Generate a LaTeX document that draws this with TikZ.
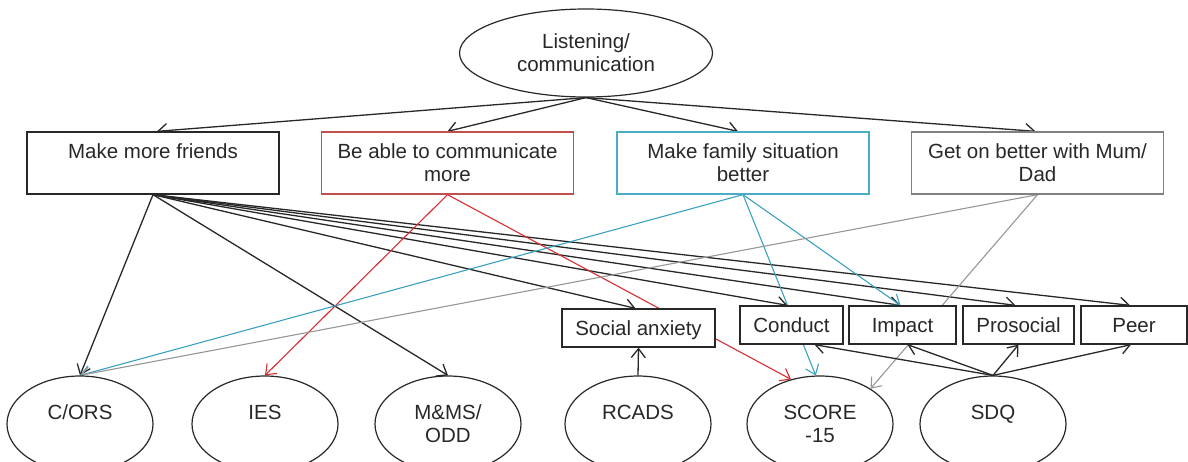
\documentclass[tikz,border=0pt]{standalone}
\usepackage{fontspec}
\setmainfont{Liberation Sans}
\usetikzlibrary{arrows.meta,backgrounds,shapes.geometric}
\definecolor{redbox}{RGB}{192,80,77}
\definecolor{redline}{RGB}{215,45,50}
\definecolor{cyanbox}{RGB}{75,172,198}
\definecolor{cyanline}{RGB}{60,160,192}
\definecolor{graybox}{RGB}{128,128,128}
\definecolor{grayline}{RGB}{150,150,150}
\definecolor{ink}{RGB}{40,40,40}
\begin{document}
\begin{tikzpicture}[x=1pt,y=-1pt,
  every node/.style={font=\fontsize{20.5}{23}\selectfont, text=ink},
  topbox/.style={draw=ink, fill=white, line width=1.3pt, minimum width=252pt, minimum height=62pt, inner sep=0pt, align=center},
  subbox/.style={draw=ink, fill=white, line width=1.3pt, minimum height=38pt, inner sep=0pt, text height=15pt, text depth=0pt},
  oval/.style={ellipse, draw=ink, fill=white, line width=1.2pt, inner sep=0pt, align=center},
  link/.style={draw=ink, line width=1.3pt, -{Straight Barb[length=9pt,width=14pt]}},
  clink/.style={line width=1.1pt, -{Straight Barb[length=9pt,width=14pt]}}
]
\useasboundingbox (0,0) rectangle (1188,461);
\clip (0,0) rectangle (1188,461);

\node[oval, minimum width=253pt, minimum height=88pt] (top) at (586,53) {Listening/\\communication};

\node[topbox] (mmf) at (153,163) {Make more friends\\\mbox{}};
\node[topbox, draw=redbox] (comm) at (447.5,163) {Be able to communicate\\more};
\node[topbox, draw=cyanbox] (fam) at (743,163) {Make family situation\\better};
\node[topbox, draw=graybox] (mum) at (1037.5,163) {Get on better with Mum/\\Dad};

\node[subbox, minimum width=153pt] (soc) at (638.5,328) {Social anxiety};
\node[subbox, minimum width=103pt] (cond) at (791.5,325) {Conduct};
\node[subbox, minimum width=107pt] (imp) at (902.5,325) {Impact};
\node[subbox, minimum width=111pt] (pro) at (1018.5,325) {Prosocial};
\node[subbox, minimum width=106pt] (peer) at (1134,325) {Peer};

\node[oval, minimum width=146pt, minimum height=96pt] (cors) at (80,424) {C/ORS\\\mbox{}};
\node[oval, minimum width=146pt, minimum height=96pt] (ies) at (265,424) {IES\\\mbox{}};
\node[oval, minimum width=146pt, minimum height=96pt] (mms) at (448,424) {M\&MS/\\ODD};
\node[oval, minimum width=146pt, minimum height=96pt] (rcads) at (638,424) {RCADS\\\mbox{}};
\node[oval, minimum width=146pt, minimum height=96pt] (score) at (820,424) {SCORE\\-15};
\node[oval, minimum width=146pt, minimum height=96pt] (sdq) at (993,424) {SDQ\\\mbox{}};

\begin{pgfonlayer}{background}
\draw[link] (top.south) -- ([xshift=4pt]mmf.north);
\draw[link] (top.south) -- (comm.north);
\draw[link] (top.south) -- ([xshift=-5pt]fam.north);
\draw[link] (top.south) -- ([xshift=-2pt]mum.north);

\draw[link] (mmf.south) -- (cors.north);
\draw[link] (mmf.south) -- (mms.north);
\draw[link] (mmf.south) -- ([xshift=-3pt]soc.north);
\draw[link] (mmf.south) -- ([xshift=-4pt]cond.north);
\draw[link] (mmf.south) -- ([xshift=-2pt]imp.north);
\draw[link] (mmf.south) -- ([xshift=-3pt]pro.north);
\draw[link] (mmf.south) -- ([xshift=-4pt]peer.north);

\draw[clink, redline] (comm.south) -- (ies.north);
\draw[clink, redline] (comm.south) -- (score.123);

\draw[clink, cyanline] (fam.south) -- (cors.north);
\draw[clink, cyanline] (fam.south) -- (score.95);
\draw[clink, cyanline] (fam.south) -- ([xshift=-2pt]imp.north);

\draw[clink, grayline] (mum.south) -- (cors.north);
\draw[clink, grayline] (mum.south) -- (score.35);

\draw[link] (rcads.north) -- (soc.south);
\draw[link] (sdq.north) -- ([xshift=23pt]cond.south);
\draw[link] (sdq.north) -- ([xshift=5pt]imp.south);
\draw[link] (sdq.north) -- (pro.south);
\draw[link] (sdq.north) -- ([xshift=-3pt]peer.south);
\end{pgfonlayer}
\end{tikzpicture}
\end{document}
